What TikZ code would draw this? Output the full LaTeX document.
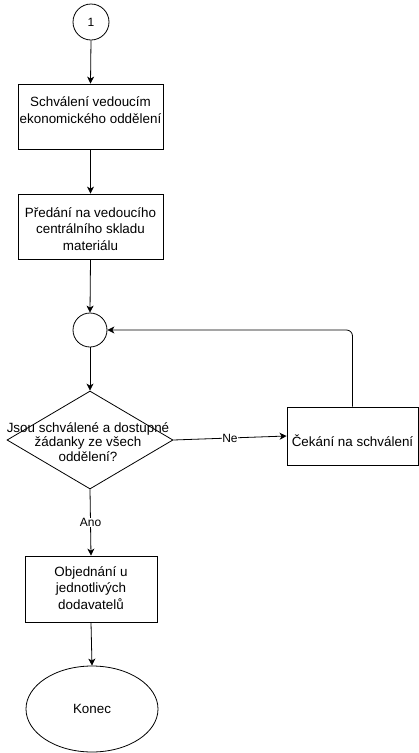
\documentclass[tikz,border=0pt]{standalone}
\usepackage{fontspec}
\setmainfont{Liberation Sans}
\usetikzlibrary{shapes.geometric,arrows.meta}
\begin{document}
\begin{tikzpicture}[x=1pt,y=-1pt,
  every node/.style={inner sep=0pt},
  shapeline/.style={draw=black,line width=0.8pt,fill=white},
  box/.style={shapeline,rectangle},
  txt/.style={align=center,font=\fontsize{13.4}{16.5}\selectfont},
  dtxt/.style={align=center,font=\fontsize{13.4}{14.3}\selectfont},
  flow/.style={draw=black,line width=0.8pt,-{Stealth[length=7pt,width=7pt,inset=2pt]}},
  edgelabel/.style={fill=white,inner sep=0.5pt,font=\fontsize{12}{14}\selectfont}]
\useasboundingbox (0,0) rectangle (419,753);

% connector circles
\node[shapeline,circle,minimum size=36pt] (start) at (91,22) {};
\node[font=\fontsize{12}{14}\selectfont] (starttxt) at (91,22) {1};
\node[shapeline,circle,minimum size=34pt] (merge) at (90,330) {};

% process boxes
\node[box,minimum width=145pt,minimum height=65pt] (approve) at (90.5,116.5) {};
\node[txt] (approvetxt) at (90.5,110) {Schválení vedoucím\\ekonomického oddělení};
\node[box,minimum width=145pt,minimum height=65pt] (handover) at (90.5,226.5) {};
\node[txt] (handovertxt) at (90.5,229) {Předání na vedoucího\\centrálního skladu\\materiálu};

% decision
\node[shapeline,diamond,minimum width=166pt,minimum height=98pt] (check) at (90,440) {};
\node[dtxt] (checktxt) at (88,442) {Jsou schválené a dostupné\\žádanky ze všech\\oddělení?};

\node[box,minimum width=131pt,minimum height=58pt] (wait) at (352.5,436) {};
\node[txt] (waittxt) at (352.5,441) {Čekání na schválení};

\node[box,minimum width=132pt,minimum height=66pt] (order) at (91,589) {};
\node[txt] (ordertxt) at (91,588) {Objednání u\\jednotlivých\\dodavatelů};

\node[shapeline,ellipse,minimum width=132pt,minimum height=86pt] (end) at (92,709) {};
\node[txt] (endtxt) at (92,709) {Konec};

% connectors
\draw[flow] (start.south) -- (approve.north);
\draw[flow] (approve.south) -- (handover.north);
\draw[flow] (handover.south) -- (merge.north);
\draw[flow] (merge.south) -- (check.north);
\draw[flow] (check.east) -- node[edgelabel] (nolbl) {Ne} (wait.west);
\draw[flow] (check.south) -- node[edgelabel] (yeslbl) {Ano} (order.north);
\draw[flow] (order.south) -- (end.north);
\draw[flow,rounded corners=6pt] (wait.north) |- (merge.east);
\end{tikzpicture}
\end{document}
